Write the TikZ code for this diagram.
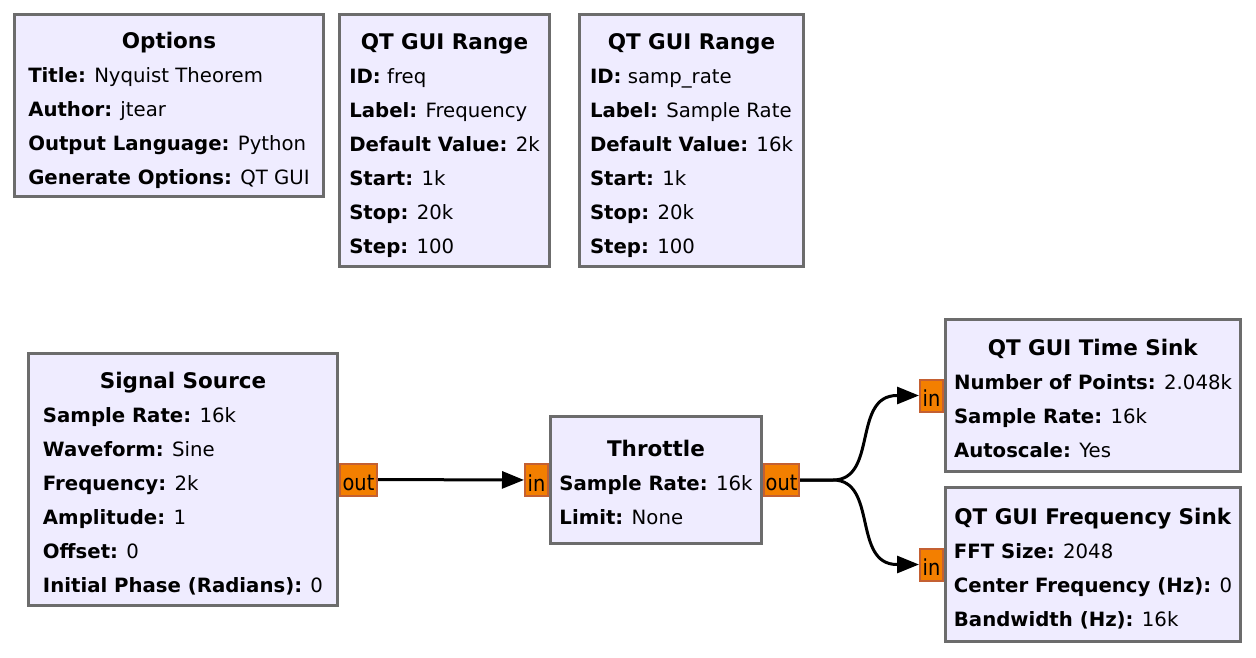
\documentclass[tikz,border=0pt]{standalone}
\usepackage{fontspec}
\setmainfont{DejaVu Sans}
\usepackage{xcolor}
\usepackage{graphicx}
\usetikzlibrary{arrows.meta}
\usetikzlibrary{positioning}

\definecolor{blkfill}{RGB}{239,236,255}
\definecolor{blkborder}{RGB}{108,108,108}
\definecolor{portfill}{RGB}{243,127,0}
\definecolor{portborder}{RGB}{196,96,50}

\newcommand{\blkparam}[2]{\textbf{#1:} #2}
\newcommand{\blktitle}[1]{\multicolumn{1}{@{}c@{}}{\fontsize{21.5}{34}\selectfont\textbf{#1}}}
\newcommand{\blkbody}[1]{\raisebox{-4pt}[\height][\depth]{\begin{tabular}{@{}l@{}}#1\end{tabular}}}
\newcommand{\portlbl}[1]{\raisebox{-3pt}[\height][\depth]{\scalebox{0.88}[1]{#1}}}

\begin{document}
\begin{tikzpicture}[x=1pt, y=-1pt]
\tikzset{BlockStyle/.style = {rectangle, draw=blkborder, fill=blkfill, line width=3pt, inner sep=0pt, font=\fontsize{19.7}{34}\selectfont}}
\tikzset{PortStyle/.style = {rectangle, draw=portborder, fill=portfill, line width=2pt, inner sep=0pt, minimum height=32pt, font=\fontsize{22}{26}\selectfont}}
\tikzset{EdgeStyle/.style = {line width=3pt, -{Triangle[length=22pt, width=17pt]}}}
	\useasboundingbox (0,0) rectangle (1256,657);

	% variables and options
	\node[BlockStyle, minimum width=309pt, minimum height=182pt] (opt) at (169,105.5) {\blkbody{
		\blktitle{Options}\\
		\blkparam{Title}{Nyquist Theorem}\\
		\blkparam{Author}{jtear}\\
		\blkparam{Output Language}{Python}\\
		\blkparam{Generate Options}{QT GUI}}};
	\node[BlockStyle, minimum width=210pt, minimum height=252pt] (freq) at (444.5,140.5) {\blkbody{
		\blktitle{QT GUI Range}\\
		\blkparam{ID}{freq}\\
		\blkparam{Label}{Frequency}\\
		\blkparam{Default Value}{2k}\\
		\blkparam{Start}{1k}\\
		\blkparam{Stop}{20k}\\
		\blkparam{Step}{100}}};
	\node[BlockStyle, minimum width=224pt, minimum height=252pt] (samprate) at (691.5,140.5) {\blkbody{
		\blktitle{QT GUI Range}\\
		\blkparam{ID}{samp\_rate}\\
		\blkparam{Label}{Sample Rate}\\
		\blkparam{Default Value}{16k}\\
		\blkparam{Start}{1k}\\
		\blkparam{Stop}{20k}\\
		\blkparam{Step}{100}}};

	% flow graph
	\node[BlockStyle, minimum width=309pt, minimum height=252pt] (src) at (183,479.5) {\blkbody{
		\blktitle{Signal Source}\\
		\blkparam{Sample Rate}{16k}\\
		\blkparam{Waveform}{Sine}\\
		\blkparam{Frequency}{2k}\\
		\blkparam{Amplitude}{1}\\
		\blkparam{Offset}{0}\\
		\blkparam{Initial Phase (Radians)}{0}}};
	\node[BlockStyle, minimum width=211pt, minimum height=127pt] (thr) at (656,480) {\blkbody{
		\blktitle{Throttle}\\
		\blkparam{Sample Rate}{16k}\\
		\blkparam{Limit}{None}}};
	\node[BlockStyle, minimum width=295pt, minimum height=152pt] (tsink) at (1093,395.5) {\blkbody{
		\blktitle{QT GUI Time Sink}\\
		\blkparam{Number of Points}{2.048k}\\
		\blkparam{Sample Rate}{16k}\\
		\blkparam{Autoscale}{Yes}}};
	\node[BlockStyle, minimum width=295pt, minimum height=154pt] (fsink) at (1093,564.5) {\blkbody{
		\blktitle{QT GUI Frequency Sink}\\
		\blkparam{FFT Size}{2048}\\
		\blkparam{Center Frequency (Hz)}{0}\\
		\blkparam{Bandwidth (Hz)}{16k}}};

	% ports
	\node[PortStyle, minimum width=37pt, anchor=west] (srcout) at (src.east) {\portlbl{out}};
	\node[PortStyle, minimum width=23pt, anchor=east] (thrin) at (thr.west) {\portlbl{in}};
	\node[PortStyle, minimum width=35pt, anchor=west] (throut) at (thr.east) {\portlbl{out}};
	\node[PortStyle, minimum width=23pt, anchor=east] (tsin) at (tsink.west) {\portlbl{in}};
	\node[PortStyle, minimum width=23pt, anchor=east] (fsin) at (fsink.west) {\portlbl{in}};

	% connections
	\draw[EdgeStyle] (srcout) -- (thrin);
	\draw[EdgeStyle] (throut.east) -- ++(33,0) .. controls +(45,0) and +(-45,0) .. ([xshift=-22pt]tsin.west) -- (tsin.west);
	\draw[EdgeStyle] (throut.east) -- ++(33,0) .. controls +(45,0) and +(-45,0) .. ([xshift=-22pt]fsin.west) -- (fsin.west);

\end{tikzpicture}
\end{document}
